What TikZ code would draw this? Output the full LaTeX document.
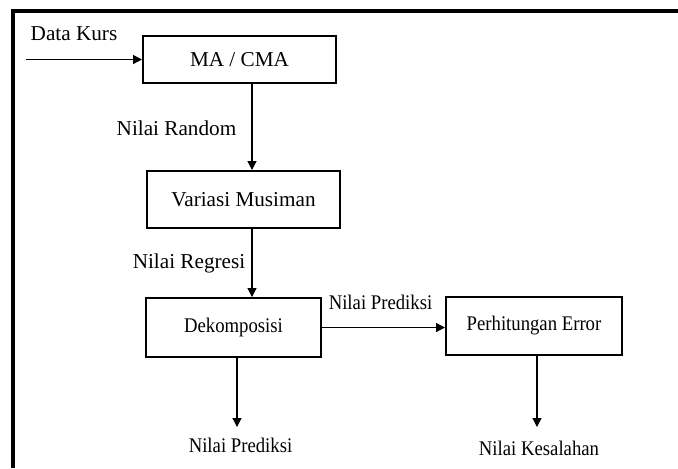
\documentclass[tikz,border=0pt]{standalone}
\usepackage{fontspec}
\setmainfont{Liberation Serif}
\newfontfamily\narrowserif[FakeStretch=0.9]{Liberation Serif}
\usetikzlibrary{arrows.meta}

\tikzset{
  procbox/.style = {draw, line width=1pt, inner sep=0pt, font=\fontsize{10.6}{13}\selectfont},
  flowlabel/.style = {inner sep=0pt, font=\fontsize{10.6}{13}\selectfont},
  narrow/.style = {font=\fontsize{10.4}{13}\narrowserif},
  flow/.style = {line width=0.6pt, -{Triangle[length=4.5pt,width=4.5pt]}}
}

\begin{document}
\begin{tikzpicture}[x=0.5pt, y=-0.5pt]
\useasboundingbox (0,0) rectangle (678,468);
% frame
\draw[line width=2pt] (13,468) -- (13,11) -- (678,11);
% boxes
\node[procbox, minimum width=96.5pt, minimum height=23.5pt] (ma) at (239.5,59.5) {MA / CMA};
\node[procbox, minimum width=96.5pt, minimum height=28.5pt] (musim) at (243.5,199.5) {Variasi Musiman};
\node[procbox, narrow, minimum width=87.5pt, minimum height=29.5pt] (dekomp) at (233.5,327.5) {Dekomposisi};
\node[procbox, narrow, minimum width=88pt, minimum height=29pt] (error) at (534,326) {Perhitungan Error};
% texts
\node[flowlabel] (kurs) at (74,34) {Data Kurs};
\node[flowlabel] (random) at (176.5,128) {Nilai Random};
\node[flowlabel] (regresi) at (189,263) {Nilai Regresi};
\node[flowlabel, narrow] (prediksiA) at (380.5,302) {Nilai Prediksi};
\node[flowlabel, narrow] (prediksiB) at (240.5,445) {Nilai Prediksi};
\node[flowlabel, narrow] (salah) at (539,448) {Nilai Kesalahan};
% free ends
\coordinate (in) at (26,59.5);
\coordinate (outA) at (237,427);
\coordinate (outB) at (537,427);
% connectors
\draw[flow] (in) -- (ma.west);
\draw[flow] ([xshift=6.25pt]ma.south) -- ([xshift=6.25pt]ma.south |- musim.north);
\draw[flow] ([xshift=4.25pt]musim.south) -- ([xshift=4.25pt]musim.south |- dekomp.north);
\draw[flow] (dekomp.east) -- (dekomp.east -| error.west);
\draw[flow] (dekomp.south -| outA) -- (outA);
\draw[flow] (error.south -| outB) -- (outB);
\end{tikzpicture}
\end{document}
